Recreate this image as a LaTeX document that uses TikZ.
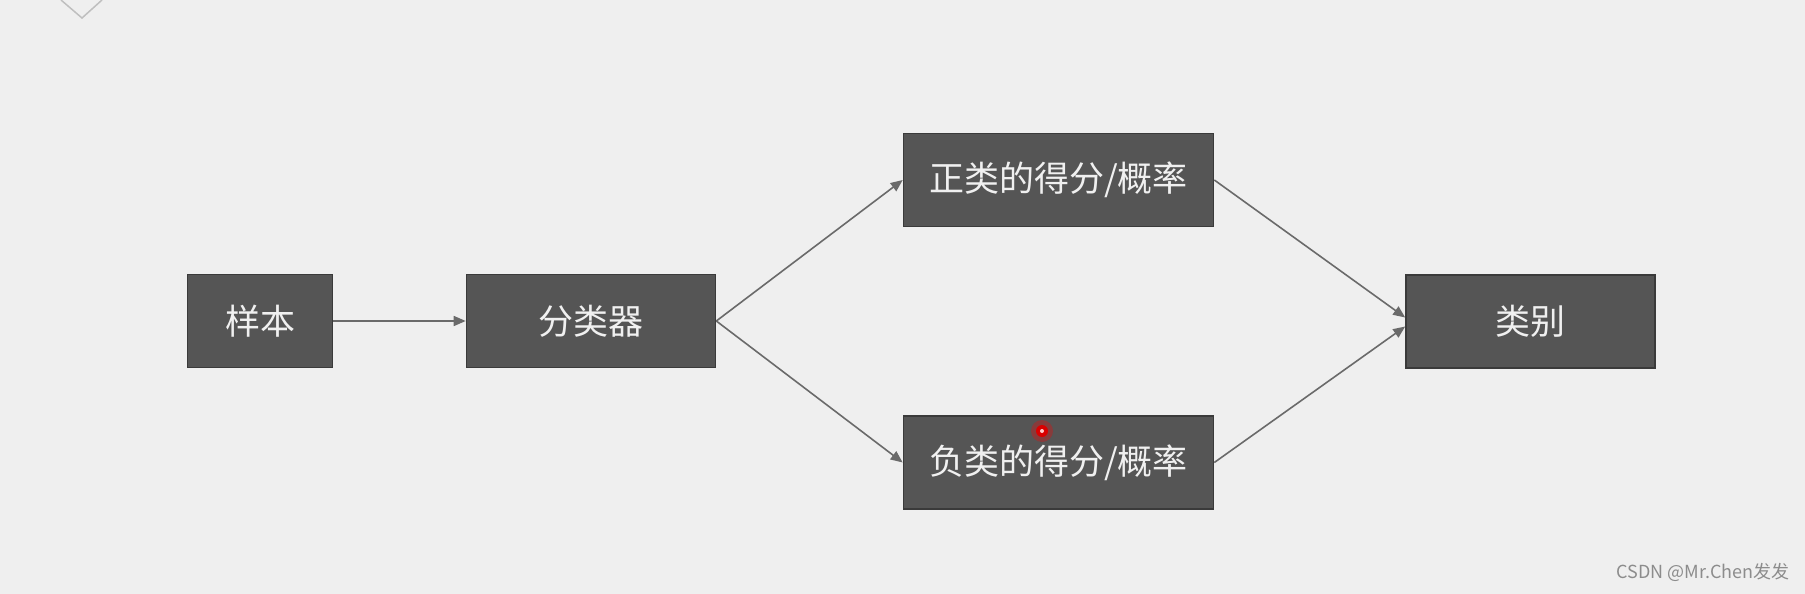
\documentclass[tikz,border=0pt]{standalone}
\usepackage{fontspec}
\newfontfamily\cjk{Noto Sans CJK SC}
\usetikzlibrary{positioning, calc, arrows.meta}

\definecolor{bgGray}{HTML}{EFEFEF}
\definecolor{boxFill}{HTML}{555555}
\definecolor{boxLine}{HTML}{3A3A3A}
\definecolor{arrowGray}{HTML}{6A6A6A}

\tikzset{
    box/.style={draw=boxLine, line width=1.6pt, fill=boxFill, text=white!94!black,
        minimum height=93pt, inner sep=0pt,
        font=\cjk\fontsize{35}{38}\selectfont},
    flow/.style={draw=arrowGray, line width=1.6pt,
        -{Triangle[length=12pt,width=10pt]}}
}

\begin{document}
\begin{tikzpicture}[x=1pt, y=-1pt]
        % Background and bounding box
        \fill[bgGray] (0,0) rectangle (1805,594);
        \useasboundingbox (0,0) rectangle (1805,594);

        % Corner mark
        \draw[black!25, line width=1.5pt] (61,0) -- (82,18) -- (102,0);

        % Boxes
        \node[box, minimum width=145pt] (smp) at (260,321) {样本};
        \node[box, minimum width=249pt] (clf) at (591,321) {分类器};
        \node[box, minimum width=310pt] (pos) at (1058.5,180) {正类的得分/概率};
        \node[box, minimum width=310pt] (neg) at (1058.5,462.5) {负类的得分/概率};
        \node[box, minimum width=249pt] (cls) at (1530.5,321.5) {类别};

        % Connectors
        \draw[flow] (smp) -- (clf);
        \draw[flow] (clf.east) -- (pos.west);
        \draw[flow] (clf.east) -- (neg.west);
        \draw[flow] (pos.east) -- ([yshift=4pt]cls.west);
        \draw[flow] (neg.east) -- ([yshift=-5pt]cls.west);

        % Cursor dot
        \fill[red!30!boxFill] (1042,431) circle (11pt);
        \fill[red!85!black] (1042,431) circle (6pt);
        \fill[white!80!red] (1042,431) circle (2pt);

        % Watermark
        \node[anchor=east, inner sep=0pt, text=black!45,
            font=\cjk\fontsize{18}{20}\selectfont] (mark) at (1790,572) {CSDN @Mr.Chen发发};
    \end{tikzpicture}
\end{document}
